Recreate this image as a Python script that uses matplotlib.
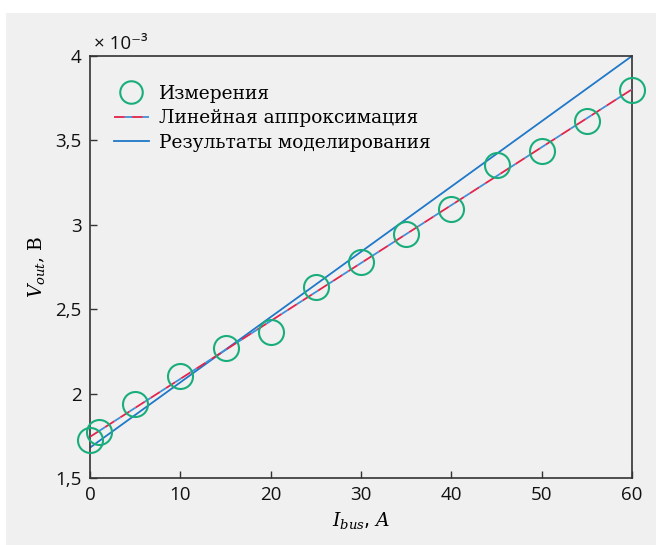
import numpy as np
import matplotlib
matplotlib.use("Agg")
import matplotlib.pyplot as plt
from matplotlib.patches import Rectangle
from matplotlib.ticker import FixedLocator, FuncFormatter

# Data (values in units of 1e-3 V)
current = [0, 1, 5, 10, 15, 20, 25, 30, 35, 40, 45, 50, 55, 60]
measured = [1.725, 1.772, 1.938, 2.104, 2.270, 2.365, 2.632, 2.780, 2.946, 3.094,
            3.354, 3.437, 3.615, 3.799]
sim_x = [0, 60]
sim_y = [1.68, 4.0]
xticks = [0, 10, 20, 30, 40, 50, 60]
yticks = [1.5, 2.0, 2.5, 3.0, 3.5, 4.0]
labels = ["Измерения", "Линейная аппроксимация", "Результаты моделирования"]

fit = np.polyfit(current, measured, 1)
fit_x = np.array([0, 60])
fit_y = np.polyval(fit, fit_x)

plt.rcParams['mathtext.fontset'] = 'dejavuserif'

fig = plt.figure(figsize=(6.56, 5.45), dpi=100)
fig.patch.set_facecolor('white')
bg = '#f0f0f0'
fig.patches.append(Rectangle((6/656, 0), 1, 1 - 13/545, transform=fig.transFigure,
                             facecolor=bg, edgecolor='none', zorder=-10))
ax = fig.add_axes([90/656, 1 - 478/545, (632-90)/656, (478-56)/545])
ax.set_facecolor(bg)

green = '#1aad7c'
blue = '#1f78c8'
red = '#e0244c'

ax.plot(sim_x, sim_y, color=blue, lw=1.3, label=labels[2], zorder=2)
ax.plot(fit_x, fit_y, color=red, lw=1.3, linestyle=(0, (6, 4)), gapcolor='#3f90d8',
        label=labels[1], zorder=3)
ax.plot(current, measured, linestyle='none', marker='o', markersize=18,
        markerfacecolor='none', markeredgecolor=green, markeredgewidth=1.5,
        label=labels[0], zorder=4, clip_on=False)

ax.set_xlim(0, 60)
ax.set_ylim(1.5, 4.0)
ax.xaxis.set_major_locator(FixedLocator(xticks))
ax.yaxis.set_major_locator(FixedLocator(yticks))
fmt = FuncFormatter(lambda v, p: ('%g' % v).replace('.', ','))
ax.yaxis.set_major_formatter(fmt)
ax.tick_params(direction='in', length=5, width=1, colors='#333333',
               labelsize=13.5, labelcolor='#111111', pad=6)
ax.tick_params(top=False, right=False)
for lab in ax.get_xticklabels() + ax.get_yticklabels():
    lab.set_family('Open Sans')
for s in ax.spines.values():
    s.set_color('#333333')
    s.set_linewidth(1.2)

ax.text(0.008, 1.006, '× 10⁻³', transform=ax.transAxes, fontsize=13.5,
        family=['Open Sans', 'DejaVu Sans'], ha='left', va='bottom', color='#111111')

ax.set_xlabel(r'$I_{bus}$, $A$', fontsize=13.5, labelpad=4)
ax.set_ylabel(r'$V_{out}$, В', fontsize=13.5, family='DejaVu Serif', labelpad=6)

handles, labs = ax.get_legend_handles_labels()
order = [2, 1, 0]
leg = ax.legend([handles[i] for i in order], [labs[i] for i in order],
                loc='upper left', bbox_to_anchor=(0.013, 0.972), frameon=False,
                prop={'family': 'DejaVu Serif', 'size': 13.4}, handlelength=1.9,
                handletextpad=0.55, labelspacing=0.36, markerscale=0.9)

fig.savefig('out.png', dpi=100)
